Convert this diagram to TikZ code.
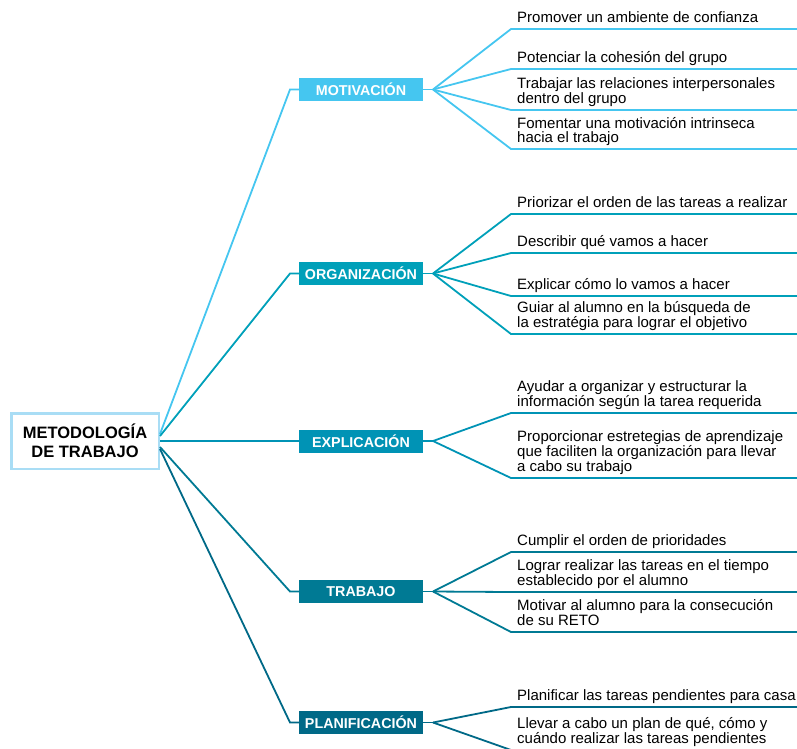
\documentclass[tikz,border=0pt]{standalone}
\usepackage{fontspec}
\setmainfont{Liberation Sans}
\definecolor{rootcol}{HTML}{A9DDF5}
\definecolor{motcol}{HTML}{45C6F0}
\definecolor{orgcol}{HTML}{00A0B9}
\definecolor{expcol}{HTML}{0093B5}
\definecolor{tracol}{HTML}{007A94}
\definecolor{placol}{HTML}{006987}
\tikzset{
  cat/.style={fill=#1, text=white, inner sep=0pt, minimum width=124pt, minimum height=23pt,
    font=\bfseries\fontsize{14.3}{16}\selectfont},
  item/.style={anchor=south west, align=left, inner sep=0pt,
    font=\fontsize{15}{13.6}\selectfont, execute at end node=\strut},
  branch/.style={draw=#1, line width=1.8pt},
}

\begin{document}
\begin{tikzpicture}[x=1pt,y=-1pt]
\useasboundingbox (0,0) rectangle (797,748);

\node[draw=rootcol, line width=2.5pt, minimum width=147.5pt, minimum height=55.5pt, align=center,
  font=\bfseries\fontsize{16.5}{19}\selectfont] (root) at (85,441) {METODOLOGÍA\\DE TRABAJO};

\node[cat=motcol] (mot) at (361,89.5) {MOTIVACIÓN};
\coordinate (mot-in) at (290,89.5);
\coordinate (mot-fan) at (433,89.5);
\draw[branch=motcol] ([yshift=7pt]root.east) -- (mot-in) -- (mot.west);
\draw[branch=motcol] (mot.east) -- (mot-fan);
\foreach \y/\txt [count=\i] in {29/{Promover un ambiente de confianza},
    69/{Potenciar la cohesión del grupo},
    110/{Trabajar las relaciones interpersonales\\dentro del grupo},
    149/{Fomentar una motivación intrinseca\\hacia el trabajo}}{
  \coordinate (mot-\i) at (511,\y);
  \coordinate (mot-e\i) at (797,\y);
  \draw[branch=motcol] (mot-fan) -- (mot-\i) -- (mot-e\i);
  \node[item] (mot-t\i) at (517,\y-2.5) {\txt};
}

\node[cat=orgcol] (org) at (361,273.5) {ORGANIZACIÓN};
\coordinate (org-in) at (290,273.5);
\coordinate (org-fan) at (433,273.5);
\draw[branch=orgcol] ([yshift=5pt]root.east) -- (org-in) -- (org.west);
\draw[branch=orgcol] (org.east) -- (org-fan);
\foreach \y/\txt [count=\i] in {214/{Priorizar el orden de las tareas a realizar},
    253/{Describir qué vamos a hacer},
    296/{Explicar cómo lo vamos a hacer},
    334/{Guiar al alumno en la búsqueda de\\la estratégia para lograr el objetivo}}{
  \coordinate (org-\i) at (511,\y);
  \coordinate (org-e\i) at (797,\y);
  \draw[branch=orgcol] (org-fan) -- (org-\i) -- (org-e\i);
  \node[item] (org-t\i) at (517,\y-2.5) {\txt};
}

\node[cat=expcol] (exp) at (361,441) {EXPLICACIÓN};
\coordinate (exp-fan) at (433,441);
\draw[branch=expcol] (root.east) -- (exp.west);
\draw[branch=expcol] (exp.east) -- (exp-fan);
\foreach \y/\txt [count=\i] in {413/{Ayudar a organizar y estructurar la\\información según la tarea requerida},
    478/{Proporcionar estretegias de aprendizaje\\que faciliten la organización para llevar\\a cabo su trabajo}}{
  \coordinate (exp-\i) at (511,\y);
  \coordinate (exp-e\i) at (797,\y);
  \draw[branch=expcol] (exp-fan) -- (exp-\i) -- (exp-e\i);
  \node[item] (exp-t\i) at (517,\y-2.5) {\txt};
}

\node[cat=tracol] (tra) at (361,591.5) {TRABAJO};
\coordinate (tra-in) at (290,591.5);
\coordinate (tra-fan) at (433,591.5);
\draw[branch=tracol] ([yshift=-6pt]root.east) -- (tra-in) -- (tra.west);
\draw[branch=tracol] (tra.east) -- (tra-fan);
\foreach \y/\txt [count=\i] in {552/{Cumplir el orden de prioridades},
    592/{Lograr realizar las tareas en el tiempo\\establecido por el alumno},
    632/{Motivar al alumno para la consecución\\de su RETO}}{
  \coordinate (tra-\i) at (511,\y);
  \coordinate (tra-e\i) at (797,\y);
  \draw[branch=tracol] (tra-fan) -- (tra-\i) -- (tra-e\i);
  \node[item] (tra-t\i) at (517,\y-2.5) {\txt};
}

\node[cat=placol] (pla) at (361,722.5) {PLANIFICACIÓN};
\coordinate (pla-in) at (290,722.5);
\coordinate (pla-fan) at (433,722.5);
\draw[branch=placol] ([yshift=-8pt]root.east) -- (pla-in) -- (pla.west);
\draw[branch=placol] (pla.east) -- (pla-fan);
\foreach \y/\txt [count=\i] in {707/{Planificar las tareas pendientes para casa},
    750/{Llevar a cabo un plan de qué, cómo y\\cuándo realizar las tareas pendientes}}{
  \coordinate (pla-\i) at (511,\y);
  \coordinate (pla-e\i) at (797,\y);
  \draw[branch=placol] (pla-fan) -- (pla-\i) -- (pla-e\i);
  \node[item] (pla-t\i) at (517,\y-2.5) {\txt};
}
\end{tikzpicture}
\end{document}
